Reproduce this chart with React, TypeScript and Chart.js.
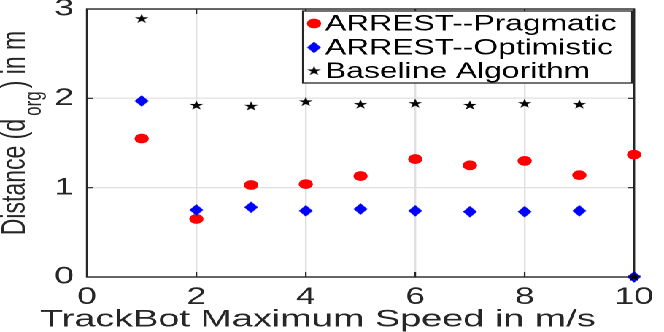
import React, { useEffect, useRef } from 'react';
import { Chart, registerables } from 'chart.js';

Chart.register(...registerables);

// ---- data ----
const speeds = [1, 2, 3, 4, 5, 6, 7, 8, 9, 10];
const pragmatic = [1.55, 0.65, 1.03, 1.04, 1.13, 1.32, 1.25, 1.3, 1.14, 1.37];
const optimistic = [1.97, 0.75, 0.78, 0.74, 0.76, 0.74, 0.73, 0.73, 0.74, 0.0];
const baselineAlg = [2.89, 1.92, 1.91, 1.96, 1.93, 1.94, 1.92, 1.94, 1.93, 0.0];
const seriesLabels = ['ARREST--Pragmatic', 'ARREST--Optimistic', 'Baseline Algorithm'];
const seriesColors = ['#ff0000', '#0000ff', '#000000'];
const xRange = [0, 10];
const yRange = [0, 3];
const xStep = 2;
const yStep = 1;
const xTitle = 'TrackBot Maximum Speed in m/s';
const yTitleParts = ['Distance (d', 'org', ') in m'];

// ---- look ----
const FONT = '"Liberation Sans", Arial, Helvetica, sans-serif';
const W = 455;
const H = 332;
const STRETCH = 664 / W;
const TEXT = '#262626';
const GRID = '#e0e0e0';
const K = 4;

function markerImage(w: number, h: number, draw: (ctx: CanvasRenderingContext2D) => void) {
  const c = document.createElement('canvas');
  c.width = Math.round(w * K);
  c.height = Math.round(h * K);
  const ctx = c.getContext('2d') as CanvasRenderingContext2D;
  ctx.scale(K, K);
  draw(ctx);
  const img = new Image();
  img.src = c.toDataURL();
  img.width = w;
  img.height = h;
  return img;
}

function makeDiamond(color: string) {
  const w = 10.2, h = 12.4;
  return markerImage(w, h, (ctx) => {
    ctx.fillStyle = color;
    ctx.beginPath();
    ctx.moveTo(w / 2, 0.2);
    ctx.lineTo(w - 0.2, h / 2);
    ctx.lineTo(w / 2, h - 0.2);
    ctx.lineTo(0.2, h / 2);
    ctx.closePath();
    ctx.fill();
  });
}

function makeStar(color: string) {
  const R = 5;
  const size = 2 * R + 1;
  return markerImage(size, size, (ctx) => {
    const cx = size / 2, cy = size / 2;
    const r = R * 0.382;
    ctx.fillStyle = color;
    ctx.beginPath();
    for (let i = 0; i < 10; i++) {
      const rad = i % 2 === 0 ? R : r;
      const a = -Math.PI / 2 + (i * Math.PI) / 5;
      const px = cx + rad * Math.cos(a);
      const py = cy + rad * Math.sin(a);
      if (i === 0) ctx.moveTo(px, py);
      else ctx.lineTo(px, py);
    }
    ctx.closePath();
    ctx.fill();
  });
}

const pts = (ys: number[]) => speeds.map((x, i) => ({ x, y: ys[i] }));

export default function App() {
  const ref = useRef<HTMLCanvasElement | null>(null);

  useEffect(() => {
    let chart: Chart | null = null;
    let cancelled = false;
    const diamond = makeDiamond(seriesColors[1]);
    const star = makeStar(seriesColors[2]);
    const CIRCLE_R = 4.9;

    const boxPlugin = {
      id: 'boxPlugin',
      beforeDatasetsDraw(c: any) {
        const ctx = c.ctx as CanvasRenderingContext2D;
        const { left, right, top, bottom } = c.chartArea;
        ctx.save();
        ctx.strokeStyle = TEXT;
        ctx.lineWidth = 1.4;
        ctx.strokeRect(left, top, right - left, bottom - top);
        ctx.lineWidth = 1.1;
        const TLx = 5, TLy = 4;
        c.scales.x.ticks.forEach((t: any) => {
          const px = c.scales.x.getPixelForValue(t.value);
          ctx.beginPath();
          ctx.moveTo(px, bottom);
          ctx.lineTo(px, bottom - TLx);
          ctx.moveTo(px, top);
          ctx.lineTo(px, top + TLx);
          ctx.stroke();
        });
        c.scales.y.ticks.forEach((t: any) => {
          const py = c.scales.y.getPixelForValue(t.value);
          ctx.beginPath();
          ctx.moveTo(left, py);
          ctx.lineTo(left + TLy, py);
          ctx.moveTo(right, py);
          ctx.lineTo(right - TLy, py);
          ctx.stroke();
        });
        ctx.restore();
      },
    };

    const titlesPlugin = {
      id: 'titlesPlugin',
      afterDraw(c: any) {
        const ctx = c.ctx as CanvasRenderingContext2D;
        const { top, bottom } = c.chartArea;
        ctx.save();
        ctx.fillStyle = TEXT;
        ctx.textAlign = 'left';
        ctx.textBaseline = 'alphabetic';
        // x title
        ctx.save();
        ctx.translate(27.4, 326.5);
        ctx.scale(1.08, 1);
        ctx.font = `24px ${FONT}`;
        ctx.fillText(xTitle, 0, 0);
        ctx.restore();
        // y title with subscript
        const mainFont = `23px ${FONT}`;
        const subFont = `17px ${FONT}`;
        ctx.font = mainFont;
        const w1 = ctx.measureText(yTitleParts[0]).width;
        const w3 = ctx.measureText(yTitleParts[2]).width;
        ctx.font = subFont;
        const w2 = ctx.measureText(yTitleParts[1]).width;
        const gap = 3;
        const total = w1 + w2 + w3 + 2 * gap;
        const cy = (top + bottom) / 2 - 10;
        ctx.translate(17, cy);
        ctx.rotate(-Math.PI / 2);
        let x = -total / 2;
        ctx.font = mainFont;
        ctx.fillText(yTitleParts[0], x, 0);
        x += w1 + gap;
        ctx.font = subFont;
        ctx.fillText(yTitleParts[1], x, 11);
        x += w2 + gap;
        ctx.font = mainFont;
        ctx.fillText(yTitleParts[2], x, 0);
        ctx.restore();
      },
    };

    const legendPlugin = {
      id: 'legendPlugin',
      afterDatasetsDraw(c: any) {
        const ctx = c.ctx as CanvasRenderingContext2D;
        const { right, top } = c.chartArea;
        const bx = 207.6, by = top + 2, bw = right - 1.4 - bx, bh = 72;
        ctx.save();
        ctx.fillStyle = '#ffffff';
        ctx.fillRect(bx, by, bw, bh);
        ctx.strokeStyle = TEXT;
        ctx.lineWidth = 1.3;
        ctx.strokeRect(bx, by, bw, bh);
        const rows = [by + 12.5, by + 36.5, by + 60];
        const mx = 215.2;
        const tx = 222.7;
        ctx.font = `21.8px ${FONT}`;
        ctx.textBaseline = 'middle';
        ctx.textAlign = 'left';
        rows.forEach((ry, i) => {
          if (i === 0) {
            ctx.fillStyle = seriesColors[0];
            ctx.beginPath();
            ctx.arc(mx, ry, CIRCLE_R, 0, Math.PI * 2);
            ctx.fill();
          } else {
            const img = i === 1 ? diamond : star;
            ctx.drawImage(img, mx - img.width / 2, ry - img.height / 2, img.width, img.height);
          }
          ctx.fillStyle = '#000000';
          ctx.fillText(seriesLabels[i], tx, ry + 1);
        });
        ctx.restore();
      },
    };

    const tickFont = { family: FONT, size: 24, lineHeight: 1.2 };

    Promise.all([diamond.decode(), star.decode()])
      .catch(() => undefined)
      .then(() => {
        if (cancelled || !ref.current) return;
        chart = new Chart(ref.current, {
          type: 'scatter',
          data: {
            datasets: [
              {
                label: seriesLabels[0],
                data: pts(pragmatic),
                pointStyle: 'circle',
                pointRadius: CIRCLE_R,
                backgroundColor: seriesColors[0],
                borderWidth: 0,
                pointBorderWidth: 0,
                order: 3,
                clip: false,
              } as any,
              {
                label: seriesLabels[1],
                data: pts(optimistic),
                pointStyle: diamond,
                pointRadius: 6,
                backgroundColor: seriesColors[1],
                borderWidth: 0,
                order: 2,
                clip: false,
              } as any,
              {
                label: seriesLabels[2],
                data: pts(baselineAlg),
                pointStyle: star,
                pointRadius: 5,
                backgroundColor: seriesColors[2],
                borderWidth: 0,
                order: 1,
                clip: false,
              } as any,
            ],
          },
          options: {
            animation: false,
            responsive: false,
            devicePixelRatio: 2,
            layout: { padding: { left: 0, right: 20.5, top: 9, bottom: 0 } },
            plugins: {
              legend: { display: false },
              tooltip: { enabled: false },
              title: { display: false },
            },
            scales: {
              x: {
                type: 'linear',
                min: xRange[0],
                max: xRange[1],
                ticks: {
                  stepSize: xStep,
                  font: tickFont,
                  color: TEXT,
                  padding: 6,
                  maxRotation: 0,
                  autoSkip: false,
                },
                grid: { color: GRID, lineWidth: 1.2, drawTicks: false },
                border: { display: false },
                title: { display: false },
                afterFit: (s: any) => {
                  s.height = 55;
                  s.paddingLeft = 0;
                  s.paddingRight = 0;
                },
              },
              y: {
                type: 'linear',
                min: yRange[0],
                max: yRange[1],
                ticks: {
                  stepSize: yStep,
                  font: tickFont,
                  color: TEXT,
                  padding: 9,
                },
                grid: { color: GRID, lineWidth: 1.2, drawTicks: false },
                border: { display: false },
                title: { display: false },
                afterFit: (s: any) => {
                  s.width = 59.6;
                  s.paddingTop = 0;
                  s.paddingBottom = 0;
                },
              },
            },
          } as any,
          plugins: [boxPlugin, legendPlugin, titlesPlugin],
        });
      });

    return () => {
      cancelled = true;
      if (chart) chart.destroy();
    };
  }, []);

  return (
    <div
      style={{
        position: 'fixed',
        left: 0,
        top: 0,
        width: W + 'px',
        height: H + 'px',
        transform: `scaleX(${STRETCH})`,
        transformOrigin: '0 0',
        background: '#ffffff',
      }}
    >
      <canvas
        ref={ref}
        width={W}
        height={H}
        style={{ display: 'block', width: W + 'px', height: H + 'px' }}
      />
    </div>
  );
}
